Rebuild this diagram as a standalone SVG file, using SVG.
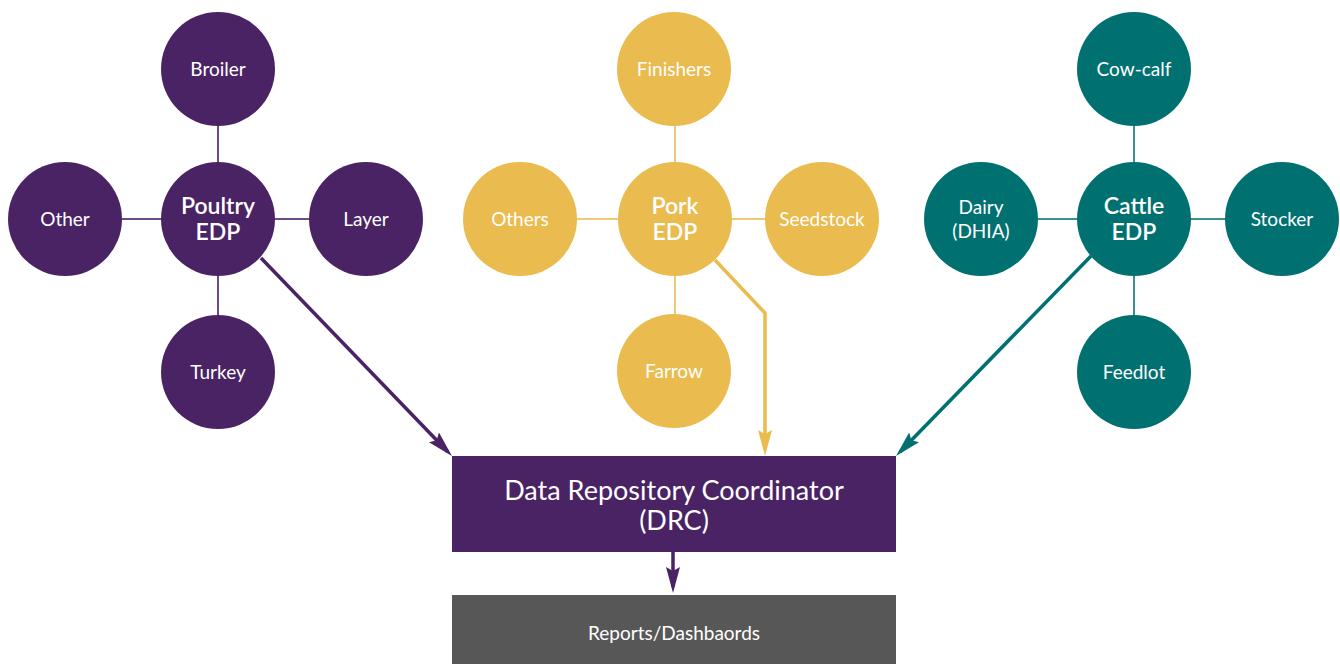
<svg xmlns="http://www.w3.org/2000/svg" width="1340" height="664" viewBox="0 0 1340 664">
<defs>
<style>
.t{font-family:Lato,"Open Sans","Liberation Sans",sans-serif;fill:#ffffff;text-anchor:middle}
.s{font-size:19px}
.b{font-size:23px;font-weight:600}
.pu{fill:#4a2364}
.ye{fill:#eabb4e}
.te{fill:#017070}
.thin{stroke-width:2;fill:none}
.thick{stroke-width:3.5;fill:none}
</style>
<marker id="ap" markerUnits="userSpaceOnUse" markerWidth="26" markerHeight="14" refX="20" refY="7" orient="auto"><path d="M0,0 L26,7 L0,14 L4,7 z" fill="#4a2364"/></marker>
<marker id="ay" markerUnits="userSpaceOnUse" markerWidth="26" markerHeight="14" refX="20" refY="7" orient="auto"><path d="M0,0 L26,7 L0,14 L4,7 z" fill="#eabb4e"/></marker>
<marker id="at" markerUnits="userSpaceOnUse" markerWidth="26" markerHeight="14" refX="20" refY="7" orient="auto"><path d="M0,0 L26,7 L0,14 L4,7 z" fill="#017070"/></marker>
</defs>
<rect width="1340" height="664" fill="#ffffff"/>
<g id="connectors">
<g stroke="#6b4c88" class="thin">
<line x1="218" y1="125" x2="218" y2="162"/>
<line x1="218" y1="276" x2="218" y2="315"/>
<line x1="122" y1="219" x2="162" y2="219"/>
<line x1="275" y1="219" x2="310" y2="219"/>
</g>
<g stroke="#efcb78" class="thin">
<line x1="675" y1="125" x2="675" y2="162"/>
<line x1="675" y1="276" x2="675" y2="315"/>
<line x1="577" y1="219" x2="618" y2="219"/>
<line x1="732" y1="219" x2="766" y2="219"/>
</g>
<g stroke="#3b9191" class="thin">
<line x1="1134" y1="125" x2="1134" y2="162"/>
<line x1="1134" y1="276" x2="1134" y2="315"/>
<line x1="1038" y1="219" x2="1077" y2="219"/>
<line x1="1191" y1="219" x2="1225" y2="219"/>
</g>
<path d="M261,258 L447.8,451.7" stroke="#4a2364" class="thick" marker-end="url(#ap)"/>
<path d="M715,260 L765,313 L765,450" stroke="#eabb4e" class="thick" marker-end="url(#ay)"/>
<path d="M1091,256 L900.2,451.7" stroke="#017070" class="thick" marker-end="url(#at)"/>
<path d="M673,552 L673,587" stroke="#4a2364" class="thick" marker-end="url(#ap)"/>
</g>
<g id="broiler"><circle cx="218" cy="69" r="57" class="pu"/><text x="218" y="76" class="t s">Broiler</text></g>
<g id="poultry-other"><circle cx="65" cy="219" r="57" class="pu"/><text x="65" y="226" class="t s">Other</text></g>
<g id="poultry"><circle cx="218" cy="219" r="57" class="pu"/><text x="218" y="214" class="t b">Poultry</text><text x="218" y="240" class="t b">EDP</text></g>
<g id="layer"><circle cx="366" cy="219" r="57" class="pu"/><text x="366" y="226" class="t s">Layer</text></g>
<g id="turkey"><circle cx="218" cy="372" r="57" class="pu"/><text x="218" y="379" class="t s">Turkey</text></g>
<g id="finishers"><circle cx="674" cy="69" r="57" class="ye"/><text x="674" y="76" class="t s">Finishers</text></g>
<g id="others"><circle cx="520" cy="219" r="57" class="ye"/><text x="520" y="226" class="t s">Others</text></g>
<g id="pork"><circle cx="675" cy="219" r="57" class="ye"/><text x="675" y="214" class="t b">Pork</text><text x="675" y="240" class="t b">EDP</text></g>
<g id="seedstock"><circle cx="822" cy="219" r="57" class="ye"/><text x="822" y="226" class="t s">Seedstock</text></g>
<g id="farrow"><circle cx="674" cy="371" r="57" class="ye"/><text x="674" y="378" class="t s">Farrow</text></g>
<g id="cowcalf"><circle cx="1134" cy="69" r="57" class="te"/><text x="1134" y="76" class="t s">Cow-calf</text></g>
<g id="dairy"><circle cx="981" cy="219" r="57" class="te"/><text x="981" y="214" class="t s">Dairy</text><text x="981" y="238" class="t s">(DHIA)</text></g>
<g id="cattle"><circle cx="1134" cy="219" r="57" class="te"/><text x="1134" y="214" class="t b">Cattle</text><text x="1134" y="240" class="t b">EDP</text></g>
<g id="stocker"><circle cx="1282" cy="219" r="57" class="te"/><text x="1282" y="226" class="t s">Stocker</text></g>
<g id="feedlot"><circle cx="1134" cy="372" r="57" class="te"/><text x="1134" y="379" class="t s">Feedlot</text></g>
<g id="drc"><rect x="452" y="456" width="444" height="96" class="pu"/><text x="674" y="500" class="t" font-size="27">Data Repository Coordinator</text><text x="674" y="530" class="t" font-size="27">(DRC)</text></g>
<g id="reports"><rect x="452" y="595" width="444" height="69" fill="#575757"/><text x="674" y="640" class="t s">Reports/Dashbaords</text></g>
</svg>
